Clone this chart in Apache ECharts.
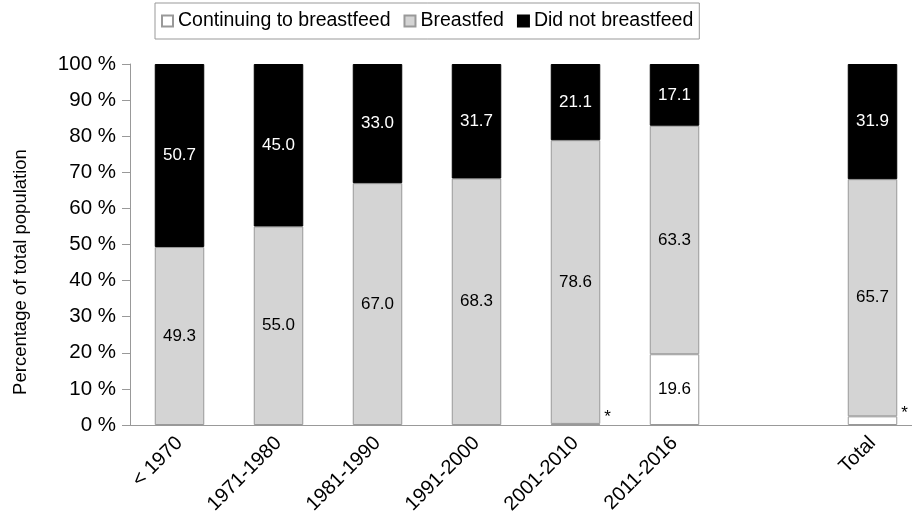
<!DOCTYPE html>
<html lang="en">
<head>
    <meta charset="UTF-8">
    <title>Breastfeeding by period</title>
    <script type="text/javascript" src="https://cdn.jsdelivr.net/npm/echarts@6/dist/echarts.min.js"></script>
    <style>
        html, body{ margin: 0; background: #fff; overflow: hidden; }
        /* the plot runs slightly past the right edge of the window, as in the original */
        #main{ width: 922px; height: 526px; }
    </style>
</head>
<body>
<div id="main"></div>
<script>
    // categories (7th slot is an empty gap before Total)
    var categories = ['< 1970', '1971-1980', '1981-1990', '1991-2000', '2001-2010', '2011-2016', '', 'Total'];
    var continuing = [null, null, null, null, 0.3, 19.6, null, 2.4];
    var breastfed = [49.3, 55.0, 67.0, 68.3, 78.6, 63.3, null, 65.7];
    var notBreastfed = [50.7, 45.0, 33.0, 31.7, 21.1, 17.1, null, 31.9];
    // points marked with an asterisk instead of a value
    var starred = [4, 7];

    var font = 'Liberation Sans, Arial, sans-serif';

    function segData(arr, series) {
        return arr.map(function (v, i) {
            var item = { value: v };
            if (series === 'c' && starred.indexOf(i) >= 0) {
                item.label = { show: true, position: 'right', formatter: '*', offset: [-1, -7], fontSize: 17, color: '#000' };
            }
            return item;
        });
    }

    var myChart = echarts.init(document.getElementById('main'));
    var lbl = { show: true, fontFamily: font, fontSize: 17, formatter: function (p) { return p.value.toFixed(1); } };
    var option = {
        animation: false,
        legend: {
            top: 3,
            left: 155,
            data: ['Continuing to breastfeed', 'Breastfed', 'Did not breastfeed'],
            icon: 'rect',
            itemWidth: 11,
            itemHeight: 11,
            itemGap: 13,
            borderColor: '#999',
            borderWidth: 1,
            padding: [8, 6, 8, 6],
            textStyle: { fontFamily: font, fontSize: 19.5, color: '#000' }
        },
        grid: { left: 130, top: 64, right: 0, bottom: 101 },
        xAxis: {
            type: 'category',
            data: categories,
            axisLine: { lineStyle: { color: '#999' } },
            axisTick: { length: 8, lineStyle: { color: '#999' } },
            axisLabel: { rotate: 45, fontFamily: font, fontSize: 20, color: '#000', margin: 15, interval: 0 }
        },
        yAxis: {
            type: 'value',
            min: 0,
            max: 100,
            interval: 10,
            axisLine: { show: true, lineStyle: { color: '#999' } },
            axisTick: { show: true, length: 8, lineStyle: { color: '#999' } },
            splitLine: { show: false },
            axisLabel: { fontFamily: font, fontSize: 20.5, color: '#000', margin: 14, formatter: '{value} %' }
        },
        graphic: [{
            type: 'text',
            x: 11,
            y: 272,
            rotation: Math.PI / 2,
            style: {
                text: 'Percentage of total population',
                fontFamily: font,
                fontSize: 18.5,
                fill: '#000',
                align: 'center',
                verticalAlign: 'top'
            }
        }],
        series: [
            {
                name: 'Continuing to breastfeed',
                type: 'bar',
                stack: 'all',
                barWidth: '50%',
                data: segData(continuing, 'c'),
                itemStyle: { color: '#ffffff', borderColor: '#999', borderWidth: 1 },
                label: Object.assign({}, lbl, { color: '#000' })
            },
            {
                name: 'Breastfed',
                type: 'bar',
                stack: 'all',
                data: segData(breastfed, 'b'),
                itemStyle: { color: '#d4d4d4', borderColor: '#999', borderWidth: 1 },
                label: Object.assign({}, lbl, { color: '#000' })
            },
            {
                name: 'Did not breastfeed',
                type: 'bar',
                stack: 'all',
                data: segData(notBreastfed, 'n'),
                itemStyle: { color: '#000000', borderColor: '#000', borderWidth: 1 },
                label: Object.assign({}, lbl, { color: '#fff' })
            }
        ]
    };
    myChart.setOption(option);
</script>
</body>
</html>
